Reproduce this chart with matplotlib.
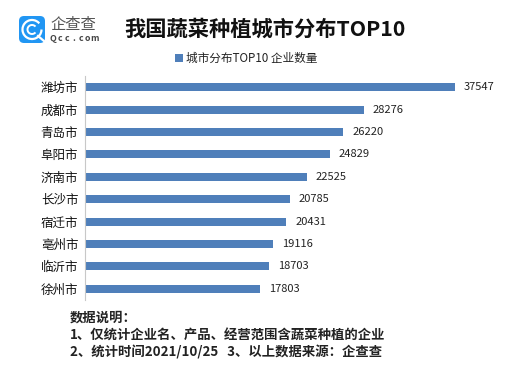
import matplotlib
matplotlib.use("Agg")
import matplotlib.pyplot as plt
from matplotlib.patches import FancyBboxPatch, Arc, Rectangle

plt.rcParams['font.family'] = ['Noto Sans CJK SC', 'DejaVu Sans']

cities = ["潍坊市", "成都市", "青岛市", "阜阳市", "济南市", "长沙市", "宿迁市", "亳州市", "临沂市", "徐州市"]
counts = [37547, 28276, 26220, 24829, 22525, 20785, 20431, 19116, 18703, 17803]

W, H = 518, 367
BLUE = "#4f7fba"

fig = plt.figure(figsize=(W / 100, H / 100), dpi=100)

# axes placed in pixels
left, right, top, bottom = 84.5, 473, 76, 300
ax = fig.add_axes([left / W, 1 - bottom / H, (right - left) / W, (bottom - top) / H])
ypos = list(range(len(cities)))
ax.barh(ypos, counts, height=0.36, color=BLUE)
ax.set_ylim(len(cities) - 0.5, -0.5)
ax.set_xlim(0, 37547 * (right - left) / 370.5)
ax.set_yticks(ypos)
ax.set_yticklabels(cities, fontsize=9, color="#111111")
ax.tick_params(axis='y', length=0, pad=4.5)
ax.set_xticks([])
for s in ["top", "right", "bottom"]:
    ax.spines[s].set_visible(False)
ax.spines["left"].set_color("#c8c8c8")
ax.spines["left"].set_linewidth(0.8)
for y, v in zip(ypos, counts):
    ax.annotate(str(v), (v, y), xytext=(9, 0), textcoords="offset pixels",
                va="center", ha="left", fontsize=8, color="#222222")

# overlay in pixel coordinates for title, legend, footer, logo
ov = fig.add_axes([0, 0, 1, 1], zorder=5)
ov.set_xlim(0, W)
ov.set_ylim(H, 0)
ov.axis("off")

ov.text(264.5, 29, "我国蔬菜种植城市分布TOP10", fontsize=15.3, fontweight="bold",
        ha="center", va="center", color="#111111")

ov.add_patch(Rectangle((175, 54), 8, 8, color=BLUE, lw=0))
ov.text(186, 58, "城市分布TOP10 企业数量", fontsize=8.4, ha="left", va="center", color="#222222")

# logo
ov.add_patch(FancyBboxPatch((22, 19), 20, 21, boxstyle="round,pad=3,rounding_size=5",
                            fc="#2196f3", ec="none"))
ov.add_patch(Arc((32, 29.5), 19, 19, theta1=0, theta2=320, ec="white", lw=1.6))
ov.add_patch(Arc((32, 29.5), 9, 9, theta1=40, theta2=320, ec="white", lw=1.4))
ov.plot([38, 44], [36, 41], color="white", lw=1.6)
ov.text(73, 24.5, "企查查", fontsize=11, ha="center", va="center", color="#555555", fontweight="light")
for i, ch in enumerate("Qcc.com"):
    ov.text(52.5 + i * 7, 38.5, ch, fontsize=6.3, ha="center", va="center", color="#444444", fontweight="bold")

# footer
notes = ["数据说明：", "1、仅统计企业名、产品、经营范围含蔬菜种植的企业", "2、统计时间2021/10/25   3、以上数据来源：企查查"]
note_y = [318, 336, 352]
for t, y in zip(notes, note_y):
    ov.text(70, y, t, fontsize=9.6, fontweight="bold", ha="left", va="center", color="#222222")

fig.savefig("out.png", dpi=100)
